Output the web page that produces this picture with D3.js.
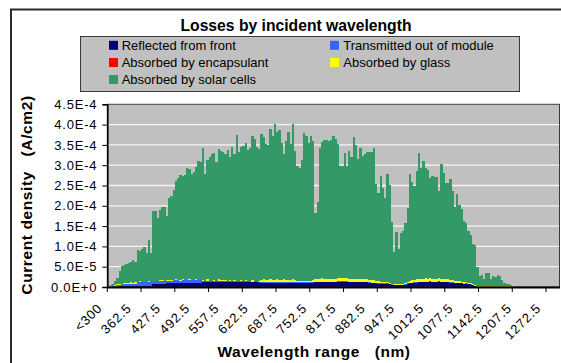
<!DOCTYPE html>
<html>
<head>
<meta charset="utf-8">
<script src="https://cdn.jsdelivr.net/npm/d3@7"></script>
<style>
  html, body { margin: 0; padding: 0; background: #fff; }
  svg { display: block; font-family: "Liberation Sans", Arial, sans-serif; }
</style>
</head>
<body>
<svg id="chart" width="561" height="363"></svg>
<script>
// Current density per 5 nm wavelength bin, in units of 1E-6 A/cm2.
// Bin 0 is "<300"; bin k (k >= 1) is centred on 297.5 + 5k nm.
const binCentres = d3.range(1, 201).map(k => 297.5 + 5 * k);
const categories = ["<300"].concat(binCentres.map(String));

const seriesNames = [
  "Reflected from front",
  "Transmitted out of module",
  "Absorbed by encapsulant",
  "Absorbed by glass",
  "Absorbed by solar cells"
];
const seriesColors = ["#000080", "#3366ff", "#ff0000", "#ffff00", "#339966"];

const reflected = [
  0, 0, 0.5, 0.5, 1, 1, 2, 2.5, 2.5, 2.5,
  3, 2.5, 2.5, 2.5, 2.5, 2.5, 2.5, 3, 3, 3,
  7, 8, 8, 8, 8.5, 8.5, 9, 9, 9, 10,
  10, 10, 10, 10, 10, 10.5, 10.5, 10.5, 11, 11,
  11, 11, 12, 12, 12, 12, 12, 12, 12, 12.5,
  12.5, 12.5, 12.5, 12.5, 12, 12, 12, 12, 12, 12,
  12, 12, 11.5, 11.5, 11.5, 11.5, 11.5, 11.5, 11, 11,
  11, 11, 11, 11, 11, 11, 11, 11, 11, 11,
  11, 11, 11, 11, 10, 10, 10, 10, 10, 10,
  10, 10, 11.5, 12, 12, 12, 12, 12, 12, 12,
  12, 12, 12, 12, 12, 12, 12, 12, 12, 12,
  12, 12, 12, 12, 12, 12, 10.5, 10, 10, 9.5,
  8.5, 8, 8, 8, 7.5, 7, 6, 5.5, 5.5, 5.5,
  5.5, 5.5, 6, 8, 9, 10, 10.5, 11, 11.5, 12,
  12, 12, 12, 12, 12, 12, 12, 12, 12, 12,
  12, 12, 11, 10.5, 10, 10, 9.5, 9, 8, 7.5,
  7, 6, 5, 3, 0.5, 0.5, 0.5, 0.5, 0.5, 0.5,
  0.5, 0.5, 0.5, 0.5, 0.5, 0.5, 0.5, 0.5, 0.5, 0.5,
  0.5, 0, 0, 0, 0, 0, 0, 0, 0, 0,
  0, 0, 0, 0, 0, 0, 0, 0, 0, 0,
  0
];

const transmitted = [
  0.3, 0.5, 1.5, 2, 3, 3.5, 5, 5.5, 5.5, 6,
  5.5, 5.5, 6, 9, 9.5, 9.5, 10, 9.5, 9.5, 9.5,
  6, 6, 6.5, 6, 6, 6.5, 6, 6, 6.5, 6.5,
  7, 6.5, 6, 6.5, 7, 6.5, 6, 6.5, 6.5, 6,
  6, 5.5, 3.5, 3, 3.5, 3, 3, 2.5, 3, 3,
  3.5, 3, 3, 2.5, 3, 3, 2.5, 3, 3, 2.5,
  2.5, 3, 2.5, 2.5, 2, 2.5, 2.5, 2, 2, 2,
  2, 2, 2, 2, 2, 2, 2, 2, 2, 2,
  2, 2, 2, 2, 2, 2, 2, 2, 2, 2,
  2, 2, 1.5, 1.5, 1.5, 1.5, 1.5, 1.5, 1.5, 1.5,
  1.5, 1.5, 3, 3, 3, 3, 3, 1.5, 1.5, 1.5,
  1.5, 1.5, 1.5, 1.5, 1.5, 1.5, 1, 1, 1, 1,
  1, 1, 1, 1, 1, 1, 0.5, 0.5, 0.5, 0.5,
  0.5, 0.5, 0.5, 1, 1, 1, 1, 1, 1, 1,
  1, 1, 1, 1, 1, 1, 1, 1, 1, 1,
  1, 1, 1, 1, 1, 1, 1, 0.5, 0.5, 0.5,
  0.5, 0.5, 0.5, 0.3, 0, 0, 0, 0, 0, 0,
  0, 0, 0, 0, 0, 0, 0, 0, 0, 0,
  0, 0, 0, 0, 0, 0, 0, 0, 0, 0,
  0, 0, 0, 0, 0, 0, 0, 0, 0, 0,
  0
];

const encapsulant = [
  0.5, 0, 0, 0, 0, 0, 0, 0, 0, 0,
  0, 0, 0, 0, 0, 0, 0, 0, 0, 0,
  0, 0, 0, 0, 0, 0, 0, 0, 0, 0,
  0, 0, 0, 0, 0, 0, 0, 0, 0, 0,
  0, 0, 0, 0, 0, 0, 0, 0, 0, 0,
  0, 0, 0, 0, 0, 0, 0, 0, 0, 0,
  0, 0, 0, 0, 0, 0, 0, 0, 0, 0,
  0, 0, 0, 0, 0, 0, 0, 0, 0, 0,
  0, 0, 0, 0, 0, 0, 0, 0, 0, 0,
  0, 0, 0, 0, 0, 0, 0, 0, 0, 0,
  0, 0, 0, 0, 0, 0, 0, 0, 0, 0,
  0, 0, 0, 0, 0, 0, 0, 0, 0, 0,
  0, 0, 0, 0, 1.5, 0, 0, 0, 0, 0,
  0, 0, 0, 0, 0, 0, 0, 0, 0, 0,
  0, 0, 0, 1.5, 0, 0, 0, 1.5, 0, 0,
  0, 0, 0, 0, 0, 0, 0, 0, 0, 2,
  0, 1.5, 0, 0, 0, 0, 0.7, 0, 0, 0,
  0.7, 0, 0.7, 0, 0.7, 0, 0, 0, 0, 0,
  0, 0, 0, 0, 0, 0, 0, 0, 0, 0,
  0, 0, 0, 0, 0, 0, 0, 0, 0, 0,
  0
];

const glass = [
  1.2, 1, 1.5, 2, 2.5, 2.5, 1.5, 2, 2.5, 2.5,
  3, 3, 3, 0.5, 3.5, 0.5, 0.5, 0.5, 3.5, 1,
  0.5, 0.5, 0.5, 3, 3, 0.5, 3, 3, 1, 1,
  2.5, 1, 0.5, 3, 1, 0.5, 2.5, 1, 0.5, 2.5,
  1, 0.5, 2, 1, 3, 1, 0.5, 2.5, 1, 3,
  1, 2.5, 1, 0.5, 2.5, 1, 3, 1, 1, 2.5,
  1, 3, 2, 1, 3, 2, 1, 2.5, 5, 5.5,
  5, 5, 5.5, 5, 5, 6, 5, 5, 5.5, 5,
  5, 4.5, 5.5, 5, 3, 2.5, 2.5, 3, 3, 3.5,
  4, 5, 6, 7, 7, 7.5, 7, 7, 6.5, 7,
  7, 7, 7.5, 7, 7, 6.5, 7, 7, 7, 7,
  6.5, 7, 7, 6.5, 6.5, 6, 6, 6, 5.5, 5,
  4.5, 4, 3.5, 3, 3, 2.5, 2, 2, 1.5, 1.5,
  2, 2, 2.5, 4, 5, 6, 6.5, 7, 7, 7.5,
  7.5, 8, 7.5, 7, 7.5, 7, 7.5, 7, 7.5, 7.5,
  7, 7, 6, 5.5, 5, 5, 4.5, 4, 3.5, 3,
  3, 2.5, 2, 1.5, 1.2, 1.2, 1.2, 1.2, 1.2, 1.2,
  1.2, 1.2, 1.2, 1.2, 1.2, 1.2, 1.2, 1.2, 1.2, 1.2,
  1.2, 0, 0, 0, 0, 0, 0, 0, 0, 0,
  0, 0, 0, 0, 0, 0, 0, 0, 0, 0,
  0
];

const solarCells = [
  0.5, 2.5, 4.5, 9.5, 16.5, 32, 43.5, 45, 46.5, 49,
  50.5, 56, 50.5, 78, 73.5, 81.5, 86, 71, 99, 70.5,
  172.5, 171.5, 155, 172, 179.5, 181.5, 158, 201, 207.5, 221.5,
  241.5, 250.5, 259.5, 253.5, 258, 275.5, 272, 261, 266, 276.5,
  292, 292, 324.5, 262, 294.5, 304, 312.5, 313, 292, 321.5,
  318, 315, 311.5, 321.5, 302.5, 329, 310.5, 358, 317, 327,
  331.5, 337, 321, 328, 355.5, 349, 330, 324, 359, 350.5,
  334, 332, 370.5, 354, 383, 363, 369, 337, 309.5, 342,
  364, 334.5, 382.5, 317, 283, 278.5, 298.5, 364, 357, 339.5,
  356, 343, 164, 188.5, 321.5, 336, 341.5, 341.5, 340, 341.5,
  351.5, 344.5, 329.5, 276, 276, 308.5, 276, 314.5, 299.5, 348.5,
  330, 294.5, 321.5, 303, 308, 313.5, 315.5, 316, 325.5, 238.5,
  218, 260, 231.5, 207, 265, 240.5, 151.5, 78, 127.5, 86.5,
  125, 130, 149, 182, 263, 242, 231, 267, 310.5, 272.5,
  289.5, 272, 267.5, 246.5, 252.5, 251, 250.5, 214.5, 282.5, 260.5,
  236, 236, 248, 219, 181, 213, 187, 178.5, 151, 145,
  127.5, 117.5, 98.5, 98.2, 47.3, 25.3, 27.6, 18.3, 32.3, 32.3,
  17.6, 25.3, 22.6, 28.3, 24.6, 15.3, 9.3, 6.3, 5.3, 3.3,
  0.8, 0, 0, 0, 0, 0, 0, 0, 0, 0,
  0, 0, 0, 0, 0, 0, 0, 0, 0, 0,
  0
];

const seriesValues = [reflected, transmitted, encapsulant, glass, solarCells];

// Axis ticks
const yTickValues = [0, 50, 100, 150, 200, 250, 300, 350, 400, 450];
const yTickLabels = ["0.0E+0", "5.0E-5", "1.0E-4", "1.5E-4", "2.0E-4",
                     "2.5E-4", "3.0E-4", "3.5E-4", "4.0E-4", "4.5E-4"];
const xTickLabels = ["<300", "362.5", "427.5", "492.5", "557.5", "622.5", "687.5", "752.5",
                     "817.5", "882.5", "947.5", "1012.5", "1077.5", "1142.5", "1207.5", "1272.5"];
const labelEvery = 13;   // one label per 13 bins
const tickEvery = 15;    // one tick mark per 15 bins

// ---- layout ----
const svg = d3.select("#chart");
const plot = { left: 107.3, right: 559.5, top: 104.3, bottom: 287 };
const tickFont = { size: "13px", spacing: "0.8px" };

// outer frame
svg.append("rect")
  .attr("x", 11).attr("y", 9.5).attr("width", 560).attr("height", 362)
  .attr("fill", "#fff").attr("stroke", "#2b2b2b").attr("stroke-width", 2);

const rows = categories.map((c, i) => {
  const r = { cat: c };
  seriesNames.forEach((s, j) => { r[s] = seriesValues[j][i]; });
  return r;
});
const stacked = d3.stack().keys(seriesNames)(rows);

const x = d3.scaleBand().domain(categories).range([plot.left, plot.right]).padding(0);
const y = d3.scaleLinear().domain([0, 450]).range([plot.bottom, plot.top]);

// plot background
svg.append("rect")
  .attr("x", plot.left).attr("y", plot.top)
  .attr("width", plot.right - plot.left).attr("height", plot.bottom - plot.top)
  .attr("fill", "#c0c0c0");

// horizontal gridlines
svg.append("g").selectAll("line")
  .data(yTickValues.slice(1))
  .join("line")
  .attr("x1", plot.left).attr("x2", plot.right)
  .attr("y1", d => y(d)).attr("y2", d => y(d))
  .attr("stroke", "#f4f4f4").attr("stroke-width", 1.3);

// stacked columns
const layers = svg.append("g").attr("shape-rendering", "crispEdges");
stacked.forEach((layer, j) => {
  layers.append("g").attr("fill", seriesColors[j])
    .selectAll("rect")
    .data(layer.filter(d => d[1] > d[0]))
    .join("rect")
    .attr("x", d => x(d.data.cat))
    .attr("width", x.bandwidth())
    .attr("y", d => y(d[1]))
    .attr("height", d => y(d[0]) - y(d[1]));
});

// plot border (top / right)
svg.append("rect")
  .attr("x", plot.left).attr("y", plot.top)
  .attr("width", plot.right - plot.left).attr("height", plot.bottom - plot.top)
  .attr("fill", "none").attr("stroke", "#3a3a3a").attr("stroke-width", 1);

// y axis
const yAxis = d3.axisLeft(y)
  .tickValues(yTickValues)
  .tickFormat((d, i) => yTickLabels[i])
  .tickSize(5).tickPadding(5);
const gy = svg.append("g").attr("transform", `translate(${plot.left},0)`).call(yAxis);
gy.select(".domain").attr("stroke", "#000").attr("stroke-width", 1.6);
gy.selectAll(".tick line").attr("stroke", "#000");
gy.selectAll(".tick text")
  .attr("fill", "#000")
  .style("font-size", tickFont.size)
  .style("letter-spacing", tickFont.spacing)
  .style("font-family", "'Liberation Sans', Arial, sans-serif");

// x axis: tick marks on bin boundaries, rotated labels on bin centres
const tickCats = categories.filter((c, i) => i % tickEvery === 0);
const xAxis = d3.axisBottom(x).tickValues(tickCats).tickFormat("").tickSize(5).tickSizeOuter(0);
const gx = svg.append("g").attr("transform", `translate(0,${plot.bottom})`).call(xAxis);
gx.selectAll(".tick").attr("transform", d => `translate(${x(d)},0)`);
gx.select(".domain").attr("stroke", "#000").attr("stroke-width", 2);
gx.selectAll(".tick line").attr("stroke", "#000");

const labelCats = categories.filter((c, i) => i % labelEvery === 0);
svg.append("g").selectAll("text")
  .data(labelCats)
  .join("text")
  .attr("transform", (d, i) => `translate(${x(d) + x.bandwidth() / 2 - 5.5},309) rotate(-45)`)
  .attr("text-anchor", "end")
  .style("font-size", tickFont.size)
  .style("letter-spacing", tickFont.spacing)
  .text((d, i) => xTickLabels[i]);

// titles
svg.append("text")
  .attr("x", 296).attr("y", 31)
  .attr("text-anchor", "middle")
  .style("font-weight", "bold").style("font-size", "15.7px")
  .text("Losses by incident wavelength");

svg.append("text")
  .attr("x", 314).attr("y", 357)
  .attr("text-anchor", "middle")
  .attr("xml:space", "preserve")
  .style("white-space", "pre")
  .style("font-weight", "bold").style("font-size", "15.5px").style("letter-spacing", "0.6px")
  .text("Wavelength range   (nm)");

svg.append("text")
  .attr("transform", "translate(32,195) rotate(-90)")
  .attr("text-anchor", "middle")
  .style("white-space", "pre")
  .style("font-weight", "bold").style("font-size", "15.5px").style("letter-spacing", "0.6px")
  .text("Current density   (A/cm2)");

// legend
const legend = svg.append("g");
legend.append("rect")
  .attr("x", 80.5).attr("y", 36.5).attr("width", 439).attr("height", 55)
  .attr("fill", "#c0c0c0").attr("stroke", "#3a3a3a").attr("stroke-width", 1);
const legendPos = [
  { sx: 109, tx: 121.7, cy: 45.3 },
  { sx: 330, tx: 343.3, cy: 45.3 },
  { sx: 109, tx: 121.7, cy: 62.5 },
  { sx: 330, tx: 343.3, cy: 62.5 },
  { sx: 109, tx: 121.7, cy: 79.5 }
];
seriesNames.forEach((name, j) => {
  const p = legendPos[j];
  legend.append("rect")
    .attr("x", p.sx).attr("y", p.cy - 4.5).attr("width", 9).attr("height", 9)
    .attr("fill", seriesColors[j]);
  legend.append("text")
    .attr("x", p.tx).attr("y", p.cy)
    .attr("dominant-baseline", "central")
    .style("font-size", "13px")
    .text(name);
});
</script>
</body>
</html>
